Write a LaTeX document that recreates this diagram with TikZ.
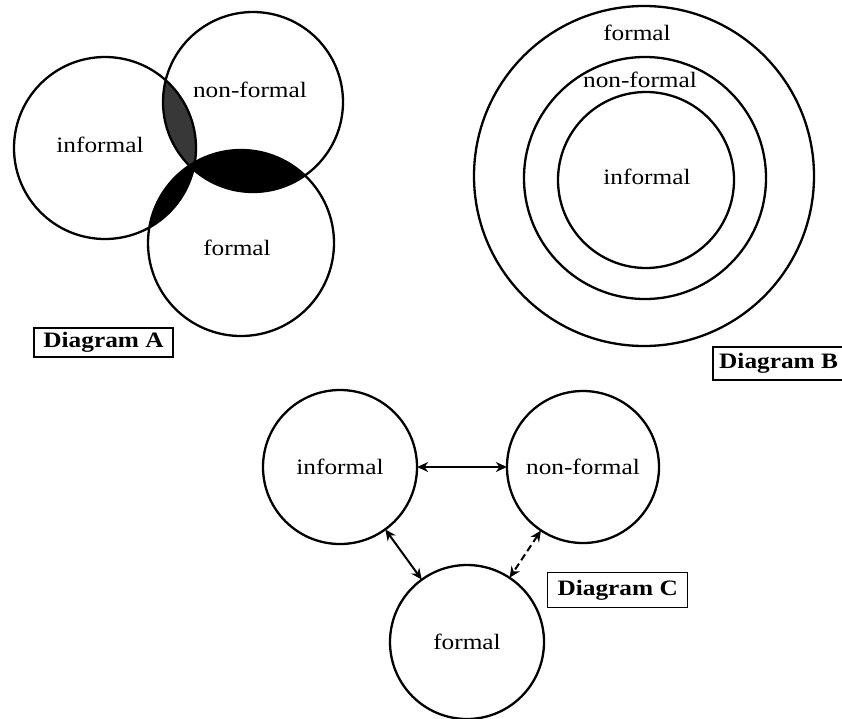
\documentclass[tikz,border=0pt]{standalone}
\usepackage{fontspec}
\setmainfont{Liberation Serif}
\newfontfamily\labfont[FakeStretch=1.15]{Liberation Serif}
\usetikzlibrary{arrows.meta}
\tikzset{
  ring/.style={circle, draw, line width=2.3pt, inner sep=0pt},
  lab/.style={font=\labfont\fontsize{22}{24}\selectfont, inner sep=0pt},
  tagtext/.style={font=\labfont\bfseries\fontsize{22}{24}\selectfont, inner sep=0pt},
  tag/.style={tagtext, draw, line width=1.4pt, minimum height=29pt, minimum width=139pt},
  link/.style={line width=2pt, {Stealth[length=11pt,width=10pt]}-{Stealth[length=11pt,width=10pt]}, shorten <=-1pt, shorten >=-1pt},
}
\begin{document}
\begin{tikzpicture}[x=1pt,y=-1pt]
\useasboundingbox (0,0) rectangle (842,718);
\clip (0,0) rectangle (842,718);
% ---------------- Diagram A ----------------
\coordinate (a1) at (105,148);
\coordinate (a2) at (253,102);
\coordinate (a3) at (241,243);
\begin{scope}
  \clip (a1) circle[radius=91pt];
  \fill[black!78] (a2) circle[radius=90pt];
\end{scope}
\begin{scope}
  \clip (a2) circle[radius=90pt];
  \fill[black] (a3) circle[radius=93pt];
\end{scope}
\begin{scope}
  \clip (a1) circle[radius=91pt];
  \fill[black] (a3) circle[radius=93pt];
\end{scope}
\node[ring, minimum size=182pt] (Ainf) at (a1) {};
\node[ring, minimum size=180pt] (Anon) at (a2) {};
\node[ring, minimum size=186pt] (Afor) at (a3) {};
\node[lab] (AinfT) at (100,145) {informal};
\node[lab] (AnonT) at (250,90) {non-formal};
\node[lab] (AforT) at (237,248) {formal};
\node[tag] (tagA) at (103.5,342.5) {Diagram A};
% ---------------- Diagram B ----------------
\node[ring, minimum size=340pt] (Bout) at (644,176) {};
\node[ring, minimum size=242pt] (Bmid) at (645,178) {};
\node[ring, minimum size=176pt] (Binn) at (646,180) {};
\node[lab] (BforT) at (637,33) {formal};
\node[lab] (BnonT) at (640,80) {non-formal};
\node[lab] (BinfT) at (647,177) {informal};
\node[tagtext, anchor=west] (tagB) at (719,363.5) {Diagram B};
\draw[line width=1.4pt] (713,347) rectangle (852,380);
% ---------------- Diagram C ----------------
\node[ring, minimum size=154pt, lab] (Cinf) at (340,467) {informal};
\node[ring, minimum size=152pt, lab] (Cnon) at (583,467) {non-formal};
\node[ring, minimum size=154pt, lab] (Cfor) at (467,642) {formal};
\draw[link] (Cinf) -- (Cnon);
\draw[link] (Cinf) -- (Cfor);
\draw[link, dash pattern=on 7pt off 4pt] (Cnon) -- (Cfor);
\node[tag, anchor=north west, minimum height=35pt, minimum width=140pt] (tagC) at (547,572) {Diagram C};
\end{tikzpicture}
\end{document}
